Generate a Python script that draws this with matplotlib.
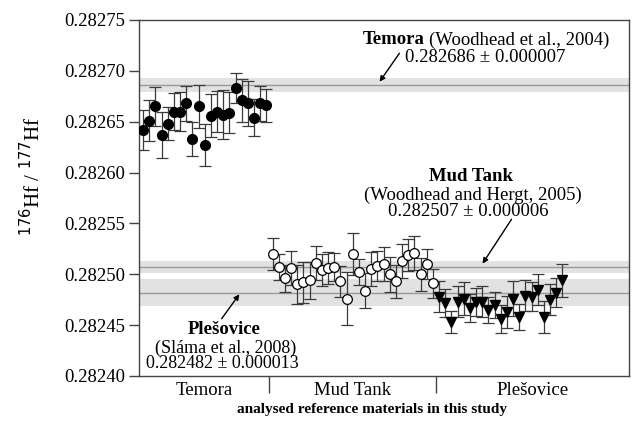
import numpy as np
import matplotlib
matplotlib.use("Agg")
import matplotlib.pyplot as plt
import matplotlib.transforms as mtransforms

plt.rcParams['font.family'] = ['Liberation Serif', 'DejaVu Serif']

# 176Hf/177Hf measured on the three reference zircons
temora = [0.282642, 0.282651, 0.282665, 0.282637, 0.282648, 0.282660, 0.282660,
          0.282668, 0.282633, 0.282665, 0.282627, 0.282656, 0.282660, 0.282657,
          0.282659, 0.282683, 0.282671, 0.282668, 0.282654, 0.282668, 0.282666]
temora_err = [20, 20, 19, 23, 16, 18, 19, 17, 17, 21, 21, 21, 20, 24, 20, 15, 21,
              22, 18, 17, 16]

mudtank = [0.282520, 0.282507, 0.282496, 0.282506, 0.282490, 0.282492, 0.282494,
           0.282511, 0.282504, 0.282506, 0.282507, 0.282493, 0.282476, 0.282520,
           0.282502, 0.282484, 0.282505, 0.282508, 0.282510, 0.282500, 0.282493,
           0.282513, 0.282519, 0.282521, 0.282500, 0.282510, 0.282491]
mudtank_err = [16, 13, 13, 17, 19, 20, 18, 17, 16, 16, 14, 15, 26, 21, 13, 17, 17,
               15, 17, 17, 16, 17, 16, 17, 16, 15, 14]

plesovice = [0.282478, 0.282472, 0.282453, 0.282473, 0.282476, 0.282467, 0.282473,
             0.282473, 0.282465, 0.282470, 0.282456, 0.282463, 0.282476, 0.282458,
             0.282479, 0.282478, 0.282485, 0.282458, 0.282475, 0.282482, 0.282494]
plesovice_err = [15, 14, 11, 15, 16, 14, 14, 15, 13, 13, 14, 16, 17, 13, 15, 14, 15,
                 16, 15, 14, 16]

# published reference values (value, 2sd)
ref_temora = (0.282686, 0.000007)
ref_mudtank = (0.282507, 0.000006)
ref_plesovice = (0.282482, 0.000013)

groups = ['Temora', 'Mud Tank', 'Plešovice']
yticks = [0.28240, 0.28245, 0.28250, 0.28255, 0.28260, 0.28265, 0.28270, 0.28275]

fig = plt.figure(figsize=(6.33, 4.21), dpi=100)
ax = fig.add_axes([0.2196, 0.1069, 0.7741, 0.8456])

# reference bands
for val, sd in [ref_temora, ref_mudtank, ref_plesovice]:
    ax.axhspan(val - sd, val + sd, color='#e2e2e2', lw=0, zorder=0)
    ax.axhline(val, color='#9a9a9a', lw=1.0, zorder=1)

n1, n2, n3 = len(temora), len(mudtank), len(plesovice)
x1 = np.arange(n1)
x2 = np.arange(n1, n1 + n2)
x3 = np.arange(n1 + n2, n1 + n2 + n3)

eb = dict(ecolor='#3a3a3a', elinewidth=0.9, capsize=4, capthick=0.9, ls='none', zorder=3)
ax.errorbar(x1, temora, yerr=np.array(temora_err) * 1e-6, fmt='o', ms=7,
            mfc='black', mec='black', **eb)
ax.errorbar(x2, mudtank, yerr=np.array(mudtank_err) * 1e-6, fmt='o', ms=7,
            mfc='white', mec='black', mew=0.9, **eb)
ax.errorbar(x3, plesovice, yerr=np.array(plesovice_err) * 1e-6, fmt='v', ms=7,
            mfc='black', mec='black', **eb)

ax.set_xlim(-0.65, 78.8)
ax.set_ylim(0.28240, 0.28275)
ax.set_yticks(yticks)
ax.set_yticklabels(['%.5f' % t for t in yticks], fontsize=13.5)
ax.tick_params(axis='y', direction='out', length=7, width=1, color='#444444', pad=3)

# group separators as x ticks
ax.set_xticks([n1 - 0.5, n1 + n2 - 0.5])
ax.tick_params(axis='x', direction='out', length=12.5, width=1, color='#444444',
               labelbottom=False)
for s in ax.spines.values():
    s.set_color('#444444')
    s.set_linewidth(1.0)

trans = mtransforms.blended_transform_factory(ax.transData, ax.transAxes)
centers = [(-0.65 + n1 - 0.5) / 2, (n1 - 0.5 + n1 + n2 - 0.5) / 2,
           (n1 + n2 - 0.5 + 78.8) / 2]
for c, g in zip(centers, groups):
    ax.text(c, -0.04, g, transform=trans, ha='center', va='center', fontsize=13.5)
fig.text(371.5 / 633, 1 - 409 / 421, 'analysed reference materials in this study',
         ha='center', va='center', fontsize=11, fontweight='bold')

fig.text(33 / 633, 1 - 176 / 421, r'$^{176}$Hf / $^{177}$Hf', rotation=90,
         ha='center', va='center', fontsize=15)

arrow = dict(arrowstyle='-|>', color='black', lw=1, mutation_scale=8)

# Temora
t = fig.text(363 / 633, 1 - 40 / 421, 'Temora', fontsize=13.5, fontweight='bold',
             ha='left', va='center')
ax.annotate('(Woodhead et al., 2004)', xy=(1, 0.5), xycoords=t, xytext=(3, 0),
            textcoords='offset points', fontsize=13.5, ha='left', va='center')
fig.text(405 / 633, 1 - 58 / 421, '0.282686 ± 0.000007', fontsize=13.5,
         ha='left', va='center')
ax.annotate('', xy=(378 / 633, 1 - 84 / 421), xycoords='figure fraction',
            xytext=(401 / 633, 1 - 51 / 421), arrowprops=arrow)

# Mud Tank
fig.text(471 / 633, 1 - 176 / 421, 'Mud Tank', fontsize=13.5, fontweight='bold',
         ha='center', va='center')
fig.text(473 / 633, 1 - 195 / 421, '(Woodhead and Hergt, 2005)', fontsize=13.5,
         ha='center', va='center')
fig.text(468 / 633, 1 - 211 / 421, '0.282507 ± 0.000006', fontsize=13.5,
         ha='center', va='center')
ax.annotate('', xy=(481 / 633, 1 - 266 / 421), xycoords='figure fraction',
            xytext=(513 / 633, 1 - 217 / 421), arrowprops=arrow)

# Plesovice
fig.text(224 / 633, 1 - 330 / 421, 'Plešovice', fontsize=13.5, fontweight='bold',
         ha='center', va='center')
fig.text(226 / 633, 1 - 348 / 421, '(Sláma et al., 2008)', fontsize=13,
         ha='center', va='center')
fig.text(222 / 633, 1 - 364 / 421, '0.282482 ± 0.000013', fontsize=13,
         ha='center', va='center')
ax.annotate('', xy=(241 / 633, 1 - 292 / 421), xycoords='figure fraction',
            xytext=(220 / 633, 1 - 321 / 421), arrowprops=arrow)

fig.savefig('out.png', dpi=100)
